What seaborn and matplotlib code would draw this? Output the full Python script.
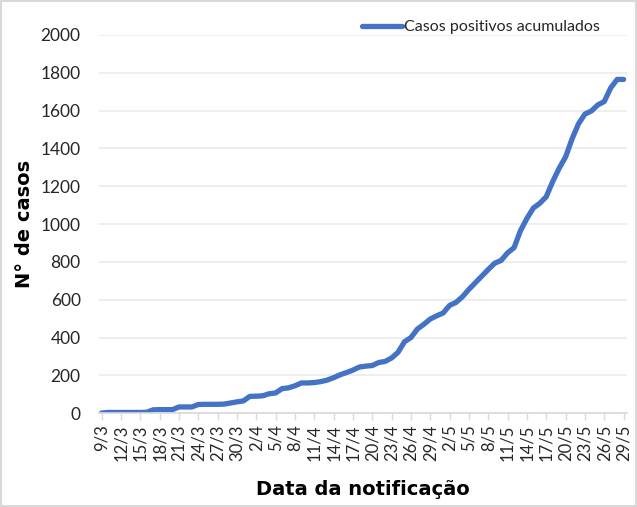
import numpy as np
import pandas as pd
import matplotlib
matplotlib.use("Agg")
import matplotlib.pyplot as plt
import seaborn as sns

# ── Data ───────────────────────────────────────────────────────────────────────

# daily notification dates, 9/3 → 29/5 (2020)
dates = pd.date_range("2020-03-09", "2020-05-29", freq="D")
day_labels = [f"{d.day}/{d.month}" for d in dates]

cumulative_cases = [
    1, 4, 4, 4, 4, 4, 4, 5, 18, 19,
    19, 19, 33, 33, 33, 46, 47, 47, 47, 48,
    54, 60, 65, 89, 90, 92, 103, 107, 130, 134,
    145, 160, 160, 162, 167, 175, 188, 203, 215, 228,
    244, 249, 252, 268, 274, 292, 322, 378, 400, 445,
    470, 498, 515, 530, 570, 586, 616, 655, 690, 725,
    760, 793, 808, 848, 875, 965, 1030, 1085, 1110, 1145,
    1225, 1295, 1355, 1450, 1530, 1582, 1598, 1630, 1648, 1720,
    1765, 1765,
]
series_name = "Casos positivos acumulados"

y_ticks = [0, 200, 400, 600, 800, 1000, 1200, 1400, 1600, 1800, 2000]

df = pd.DataFrame({
    "dia": np.arange(len(cumulative_cases)),
    "casos": cumulative_cases,
})

# ── Plot ───────────────────────────────────────────────────────────────────────

sns.set_theme(style="white")
plt.rcParams["font.family"] = ["Lato", "DejaVu Sans"]

fig, ax = plt.subplots(figsize=(6.37, 5.07), dpi=100)
fig.subplots_adjust(left=0.155, right=0.985, top=0.931, bottom=0.185)
fig.patch.set_edgecolor("#D9D9D9")
fig.patch.set_linewidth(1.5)

sns.lineplot(
    data=df, x="dia", y="casos", ax=ax,
    color="#4472C4", lw=3.8, label=series_name,
    solid_capstyle="round", solid_joinstyle="round",
)

ax.set_ylim(0, 2000)
ax.set_xlim(-0.45, 81.6)
ax.set_yticks(y_ticks)
ax.set_yticklabels([str(v) for v in y_ticks], fontsize=12.5, color="#262626")

tick_pos = list(range(0, len(day_labels), 3))
ax.set_xticks(tick_pos)
ax.set_xticklabels([day_labels[i] for i in tick_pos], rotation=90,
                   fontsize=12, color="#262626")

ax.yaxis.grid(True, color="#EBEBEB", lw=1.2)
ax.set_axisbelow(True)
for side in ["top", "right", "left"]:
    ax.spines[side].set_visible(False)
ax.spines["bottom"].set_color("#D9D9D9")
ax.spines["bottom"].set_linewidth(1.2)
ax.tick_params(axis="x", bottom=True, length=5, width=1, color="#D9D9D9", pad=3)
ax.tick_params(axis="y", left=False, pad=7)

# heavy, wide labels as in the original
ax.set_xlabel("Data da notificação", fontsize=14, fontweight="bold",
              family="DejaVu Sans", color="black", labelpad=14)
ax.set_ylabel("N° de casos", fontsize=14, fontweight="bold",
              family="DejaVu Sans", color="black", labelpad=5)

ax.legend(loc="center right", bbox_to_anchor=(0.948, 1.021), frameon=False,
          fontsize=11.5, handlelength=2.5, handletextpad=0.15,
          borderaxespad=0, borderpad=0)

plt.savefig("out.png", dpi=100)
